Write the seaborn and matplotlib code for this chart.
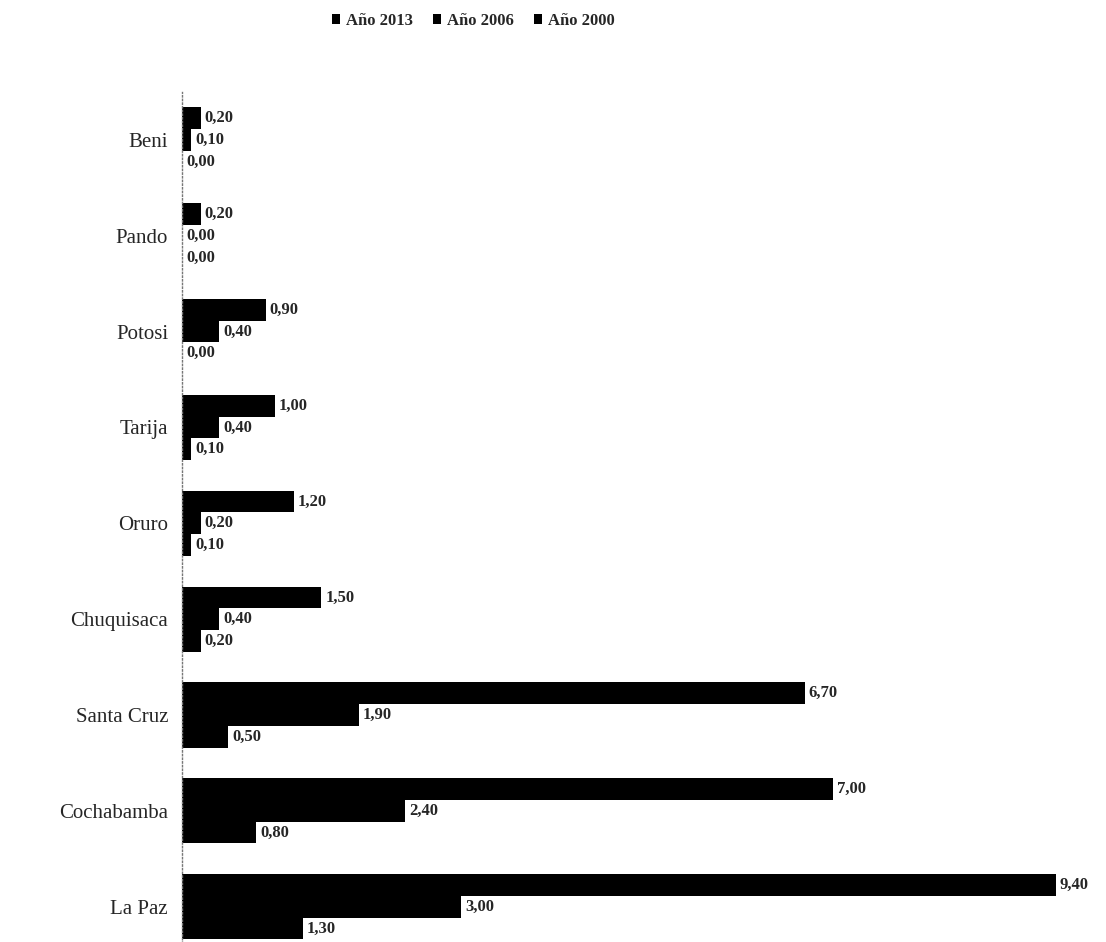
import pandas as pd
import matplotlib.pyplot as plt
import seaborn as sns

# data
departamentos = ["Beni", "Pando", "Potosi", "Tarija", "Oruro",
                 "Chuquisaca", "Santa Cruz", "Cochabamba", "La Paz"]
anios = ["Año 2013", "Año 2006", "Año 2000"]
v2013 = [0.20, 0.20, 0.90, 1.00, 1.20, 1.50, 6.70, 7.00, 9.40]
v2006 = [0.10, 0.00, 0.40, 0.40, 0.20, 0.40, 1.90, 2.40, 3.00]
v2000 = [0.00, 0.00, 0.00, 0.10, 0.10, 0.20, 0.50, 0.80, 1.30]

df = pd.DataFrame({
    "depto": departamentos * 3,
    "anio": [anios[0]] * 9 + [anios[1]] * 9 + [anios[2]] * 9,
    "valor": v2013 + v2006 + v2000,
})

sns.set_style("white")
plt.rcParams["font.family"] = ["Liberation Serif", "DejaVu Serif"]

fig = plt.figure(figsize=(11.06, 9.42), dpi=100)
ax = fig.add_axes([182 / 1106, (942 - 945) / 942, 920 / 1106, 853 / 942])

sns.barplot(data=df, y="depto", x="valor", hue="anio", orient="h",
            order=departamentos, hue_order=anios,
            palette=["black", "black", "black"], width=0.68,
            saturation=1, errorbar=None, linewidth=0, ax=ax)

for cont in ax.containers:
    ax.bar_label(cont, fmt=lambda v: f"{v:.2f}".replace(".", ","),
                 padding=3, fontsize=12, fontweight="bold", clip_on=False)

ax.set_xlim(0, 9.9)
ax.set_ylim(8.4, -0.5)
ax.set_xlabel("")
ax.set_ylabel("")
ax.set_xticks([])
ax.tick_params(axis="y", length=0, pad=10, labelsize=15)
for s in ["top", "right", "bottom"]:
    ax.spines[s].set_visible(False)
ax.spines["left"].set_linestyle(":")
ax.spines["left"].set_color("#777777")
ax.spines["left"].set_linewidth(1)

handles, labels = ax.get_legend_handles_labels()
ax.legend_.remove()
fig.legend(handles, labels, loc="upper center", bbox_to_anchor=(0.428, 1.002),
           ncol=3, frameon=False, handlelength=0.5, handleheight=0.5,
           handletextpad=0.35, columnspacing=1.2,
           prop={"weight": "bold", "size": 12})

fig.savefig("out.png", dpi=100)
